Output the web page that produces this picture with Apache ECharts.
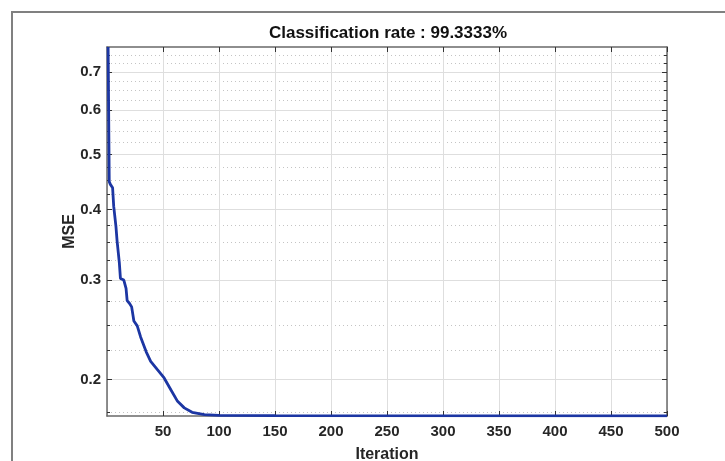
<!DOCTYPE html>
<html>
<head>
<meta charset="utf-8">
<script src="https://cdn.jsdelivr.net/npm/echarts@6/dist/echarts.min.js"></script>
<style>
    html, body { margin: 0; padding: 0; background: #fff; }
    #chart { width: 725px; height: 461px; }
</style>
</head>
<body>
<div id="chart"></div>
<script>
// values
var iterations = [1, 2, 3, 5, 6, 8, 9, 11, 12, 15, 17, 18, 20, 22, 24, 27, 30, 35, 39, 45, 51, 57, 63, 69, 76, 87, 100, 150, 500];
var mse = [0.775, 0.448, 0.443, 0.437, 0.405, 0.373, 0.352, 0.322, 0.302, 0.300, 0.290, 0.276, 0.273, 0.269, 0.254, 0.249, 0.238, 0.224, 0.2155, 0.2083, 0.2014, 0.192, 0.1831, 0.1783, 0.1751, 0.1735, 0.1729, 0.1727, 0.1726];

var yMajor = [0.2, 0.3, 0.4, 0.5, 0.6, 0.7];
var yMinor = [0.175, 0.225, 0.25, 0.275, 0.325, 0.35, 0.375, 0.425, 0.45, 0.475, 0.525, 0.55, 0.575, 0.625, 0.65, 0.675, 0.725, 0.75];
var yMin = 0.1725;
var yMax = 0.775;

var titleText = 'Classification rate : 99.3333%';
var FONT = '"Liberation Sans", Arial, sans-serif';
var TXT = '#262626';
var BOX = '#6a6a6a';

function yAxisOpt(pos, ticks, major, showLabel) {
    return {
        type: 'log',
        logBase: 10,
        min: yMin,
        max: yMax,
        position: pos,
        axisLine: { show: major, lineStyle: { color: BOX, width: 1.5 } },
        axisTick: {
            show: true, inside: true, length: major ? 5 : 3,
            customValues: ticks,
            lineStyle: { color: '#333', width: 1 }
        },
        axisLabel: {
            show: showLabel, customValues: ticks,
            color: TXT, fontFamily: FONT, fontWeight: 'bold', fontSize: 15, margin: 6,
            formatter: function (v) { return (Math.round(v * 10) / 10).toFixed(1); }
        },
        splitLine: { show: false },
        minorTick: { show: false },
        minorSplitLine: { show: false }
    };
}

function xAxisOpt(pos, showLabel) {
    return {
        type: 'value',
        min: 0,
        max: 500,
        interval: 50,
        position: pos,
        axisLine: { show: true, onZero: false, lineStyle: { color: BOX, width: 1.5 } },
        axisTick: { show: true, inside: true, length: 5, lineStyle: { color: '#333', width: 1 } },
        axisLabel: {
            show: showLabel, showMinLabel: false,
            color: TXT, fontFamily: FONT, fontWeight: 'bold', fontSize: 15, margin: 8
        },
        splitLine: { show: showLabel, lineStyle: { color: '#dedede', width: 1 } }
    };
}

function init() {
    var chart = echarts.init(document.getElementById('chart'), null, { renderer: 'canvas' });

    var points = [];
    for (var i = 0; i < iterations.length; i++) {
        points.push([iterations[i], mse[i]]);
    }

    var yLeft = yAxisOpt('left', yMajor, true, true);
    yLeft.splitLine = { show: true, lineStyle: { color: '#dedede', width: 1 } };
    yLeft.name = 'MSE';
    yLeft.nameLocation = 'middle';
    yLeft.nameGap = 29;
    yLeft.nameMoveOverlap = false;
    yLeft.nameTextStyle = { color: TXT, fontFamily: FONT, fontWeight: 'bold', fontSize: 16 };

    var yLeftMinor = yAxisOpt('left', yMinor, false, false);
    yLeftMinor.splitLine = { show: true, lineStyle: { color: '#c4c4c4', width: 1, type: [1, 3] } };

    var xBottom = xAxisOpt('bottom', true);
    xBottom.name = 'Iteration';
    xBottom.nameLocation = 'middle';
    xBottom.nameGap = 31;
    xBottom.nameTextStyle = { color: TXT, fontFamily: FONT, fontWeight: 'bold', fontSize: 16 };

    var option = {
        animation: false,
        backgroundColor: '#fff',
        grid: { left: 107, right: 58, top: 47, bottom: 45, containLabel: false, outerBoundsMode: 'none' },
        xAxis: [xBottom, xAxisOpt('top', false)],
        yAxis: [
            yLeftMinor,
            yLeft,
            yAxisOpt('right', yMajor, true, false),
            yAxisOpt('right', yMinor, false, false)
        ],
        graphic: [
            {
                type: 'text', x: 388, y: 33, z: 10,
                style: {
                    text: titleText, fill: '#111', align: 'center', verticalAlign: 'middle',
                    font: 'bold 17px ' + FONT
                }
            },
            {
                type: 'polyline', z: 10, silent: true,
                shape: { points: [[12, 461], [12, 12], [725, 12]] },
                style: { stroke: '#808080', lineWidth: 2, fill: null }
            }
        ],
        series: [{
            type: 'line',
            xAxisIndex: 0,
            yAxisIndex: 1,
            data: points,
            showSymbol: false,
            symbol: 'none',
            z: 5,
            lineStyle: { color: '#1c36a3', width: 2.8 }
        }]
    };
    chart.setOption(option);
}

window.addEventListener('load', init, false);
</script>
</body>
</html>
